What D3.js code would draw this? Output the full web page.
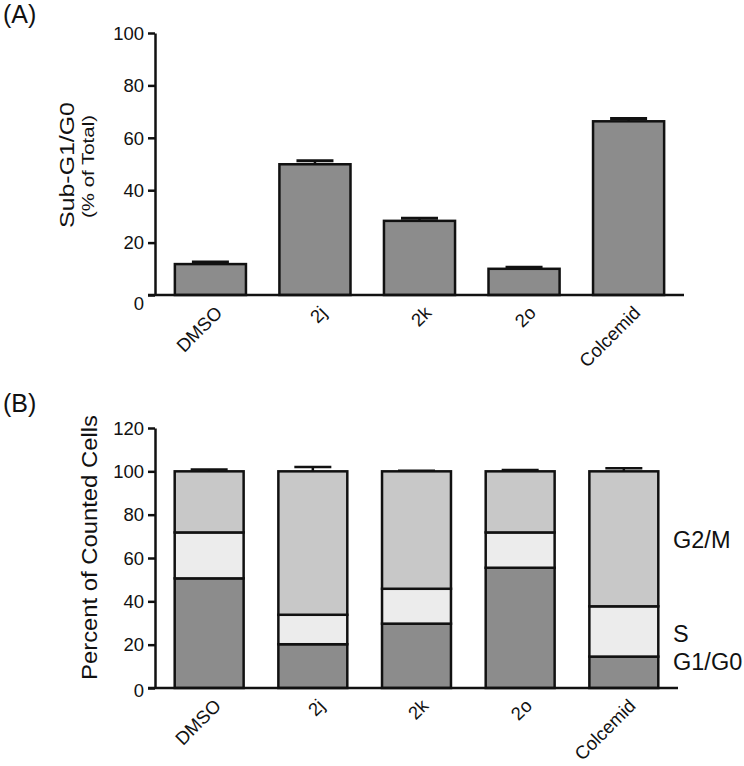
<!DOCTYPE html>
<html>
<head>
<meta charset="utf-8">
<script src="https://cdn.jsdelivr.net/npm/d3@7/dist/d3.min.js"></script>
<style>
  html, body { margin: 0; padding: 0; background: #fff; }
  svg { display: block; }
  text { font-family: "Liberation Sans", Arial, Helvetica, sans-serif; fill: #111; }
</style>
</head>
<body>
<script>
// ---- data ----
const categories = ["DMSO", "2j", "2k", "2o", "Colcemid"];
// Panel A: Sub-G1/G0 (% of total)
const subG1Mean = [11.8, 49.9, 28.3, 10.0, 66.3];
const subG1Err  = [0.8, 1.3, 1.0, 0.6, 1.1];
const yTicksA = [0, 20, 40, 60, 80, 100];
// Panel B: cell-cycle distribution (percent of counted cells)
const phases = ["G1/G0", "S", "G2/M"];
const g1g0 = [50.6, 20.2, 29.7, 55.5, 14.5];
const sPhase = [21.2, 13.6, 16.1, 16.3, 23.2];
const g2m = [28.2, 66.2, 54.2, 28.2, 62.3];
const totalErr = [0.8, 2.0, 0.3, 0.6, 1.4];
const yTicksB = [0, 20, 40, 60, 80, 100, 120];

const W = 744, H = 766;
const svg = d3.select("body").append("svg").attr("width", W).attr("height", H);

const phaseColor = {"G1/G0": "#8c8c8c", "S": "#ececec", "G2/M": "#c8c8c8"};
const SW = 2.5;

function yAxis(g, y, ticks, zeroShift) {
  const ax = d3.axisLeft(y).tickValues(ticks).tickSize(7).tickSizeOuter(0).tickPadding(4);
  g.call(ax);
  g.attr("font-family", null).attr("font-size", null);
  g.select(".domain").attr("stroke", "#111").attr("stroke-width", SW);
  g.selectAll(".tick line").attr("stroke", "#111").attr("stroke-width", SW);
  g.selectAll(".tick text")
    .style("font-size", "18.5px")
    .attr("fill", "#111")
    .attr("dy", d => d === 0 ? (0.32 + zeroShift) + "em" : "0.34em");
}

function xLabels(g, x, yAxisPos) {
  const ax = d3.axisBottom(x).tickSize(0).tickSizeOuter(0);
  g.attr("transform", `translate(0,${yAxisPos})`).call(ax);
  g.attr("font-family", null).attr("font-size", null);
  g.select(".domain").remove();
  g.selectAll(".tick text")
    .style("font-size", "18.5px")
    .attr("fill", "#111")
    .attr("text-anchor", "end")
    .attr("x", 0).attr("y", 0).attr("dy", 0)
    .attr("transform", "translate(13,19) rotate(-45)");
}

// vertical title stretched along its own direction to the reference length
function vTitle(g, cx, cy, size, target, txt) {
  const t = g.append("text").attr("text-anchor", "middle").style("font-size", size + "px").text(txt);
  const nat = t.node().getComputedTextLength() || target;
  t.attr("transform", `translate(${cx},${cy}) rotate(-90) scale(${target / nat},1)`);
  return t;
}

// ---------- Panel A ----------
{
  const y = d3.scaleLinear().domain([0, 100]).range([295, 33]);
  const x = d3.scaleBand().domain(categories).range([155, 684]).paddingInner(0.32).paddingOuter(0.19);
  const gA = svg.append("g");

  // error bars
  const eb = gA.append("g");
  categories.forEach((c, i) => {
    const cx = x(c) + x.bandwidth() / 2;
    eb.append("line").attr("x1", cx).attr("x2", cx)
      .attr("y1", y(subG1Mean[i])).attr("y2", y(subG1Mean[i] + subG1Err[i]))
      .attr("stroke", "#111").attr("stroke-width", SW);
    eb.append("line").attr("x1", cx - 18.5).attr("x2", cx + 18.5)
      .attr("y1", y(subG1Mean[i] + subG1Err[i])).attr("y2", y(subG1Mean[i] + subG1Err[i]))
      .attr("stroke", "#111").attr("stroke-width", SW + 0.5);
  });

  gA.append("g").selectAll("rect").data(categories).join("rect")
    .attr("x", d => x(d)).attr("width", x.bandwidth())
    .attr("y", (d, i) => y(subG1Mean[i]))
    .attr("height", (d, i) => y(0) - y(subG1Mean[i]))
    .attr("fill", "#8c8c8c").attr("stroke", "#111").attr("stroke-width", SW);

  yAxis(gA.append("g").attr("transform", "translate(155,0)"), y, yTicksA, 0.45);
  gA.append("line").attr("x1", 148).attr("x2", 684).attr("y1", y(0)).attr("y2", y(0))
    .attr("stroke", "#111").attr("stroke-width", SW);
  xLabels(gA.append("g"), x, y(0));

  vTitle(gA, 74, 165, 21, 126, "Sub-G1/G0");
  vTitle(gA, 94, 166.5, 16.5, 103, "(% of Total)");

  svg.append("text").attr("x", 3).attr("y", 23)
    .style("font-size", "25px").text("(A)");
}

// ---------- Panel B ----------
{
  const y = d3.scaleLinear().domain([0, 120]).range([688, 428]);
  const x = d3.scaleBand().domain(categories).range([155, 678]).paddingInner(0.335).paddingOuter(0.19);
  const gB = svg.append("g");

  const rows = categories.map((c, i) => ({cat: c, "G1/G0": g1g0[i], "S": sPhase[i], "G2/M": g2m[i]}));
  const stacked = d3.stack().keys(phases)(rows);

  // error bars on totals
  const eb = gB.append("g");
  rows.forEach((r, i) => {
    const tot = r["G1/G0"] + r["S"] + r["G2/M"];
    const cx = x(r.cat) + x.bandwidth() / 2;
    eb.append("line").attr("x1", cx).attr("x2", cx)
      .attr("y1", y(tot)).attr("y2", y(tot + totalErr[i]))
      .attr("stroke", "#111").attr("stroke-width", SW);
    eb.append("line").attr("x1", cx - 18.5).attr("x2", cx + 18.5)
      .attr("y1", y(tot + totalErr[i])).attr("y2", y(tot + totalErr[i]))
      .attr("stroke", "#111").attr("stroke-width", SW);
  });

  gB.append("g").selectAll("g").data(stacked).join("g")
    .attr("fill", d => phaseColor[d.key])
    .selectAll("rect").data(d => d).join("rect")
    .attr("x", d => x(d.data.cat)).attr("width", x.bandwidth())
    .attr("y", d => y(d[1])).attr("height", d => y(d[0]) - y(d[1]))
    .attr("stroke", "#111").attr("stroke-width", SW);

  yAxis(gB.append("g").attr("transform", "translate(155,0)"), y, yTicksB, 0.12);
  gB.append("line").attr("x1", 148).attr("x2", 678).attr("y1", y(0)).attr("y2", y(0))
    .attr("stroke", "#111").attr("stroke-width", SW);
  xLabels(gB.append("g"), x, y(0));

  vTitle(gB, 97, 547.5, 22.5, 265, "Percent of Counted Cells");

  const legendY = {"G2/M": 548, "S": 642, "G1/G0": 670};
  gB.append("g").selectAll("text").data(phases).join("text")
    .attr("x", 673).attr("y", d => legendY[d])
    .style("font-size", "23.5px").text(d => d);

  svg.append("text").attr("x", 3).attr("y", 412)
    .style("font-size", "25px").text("(B)");
}
</script>
</body>
</html>
